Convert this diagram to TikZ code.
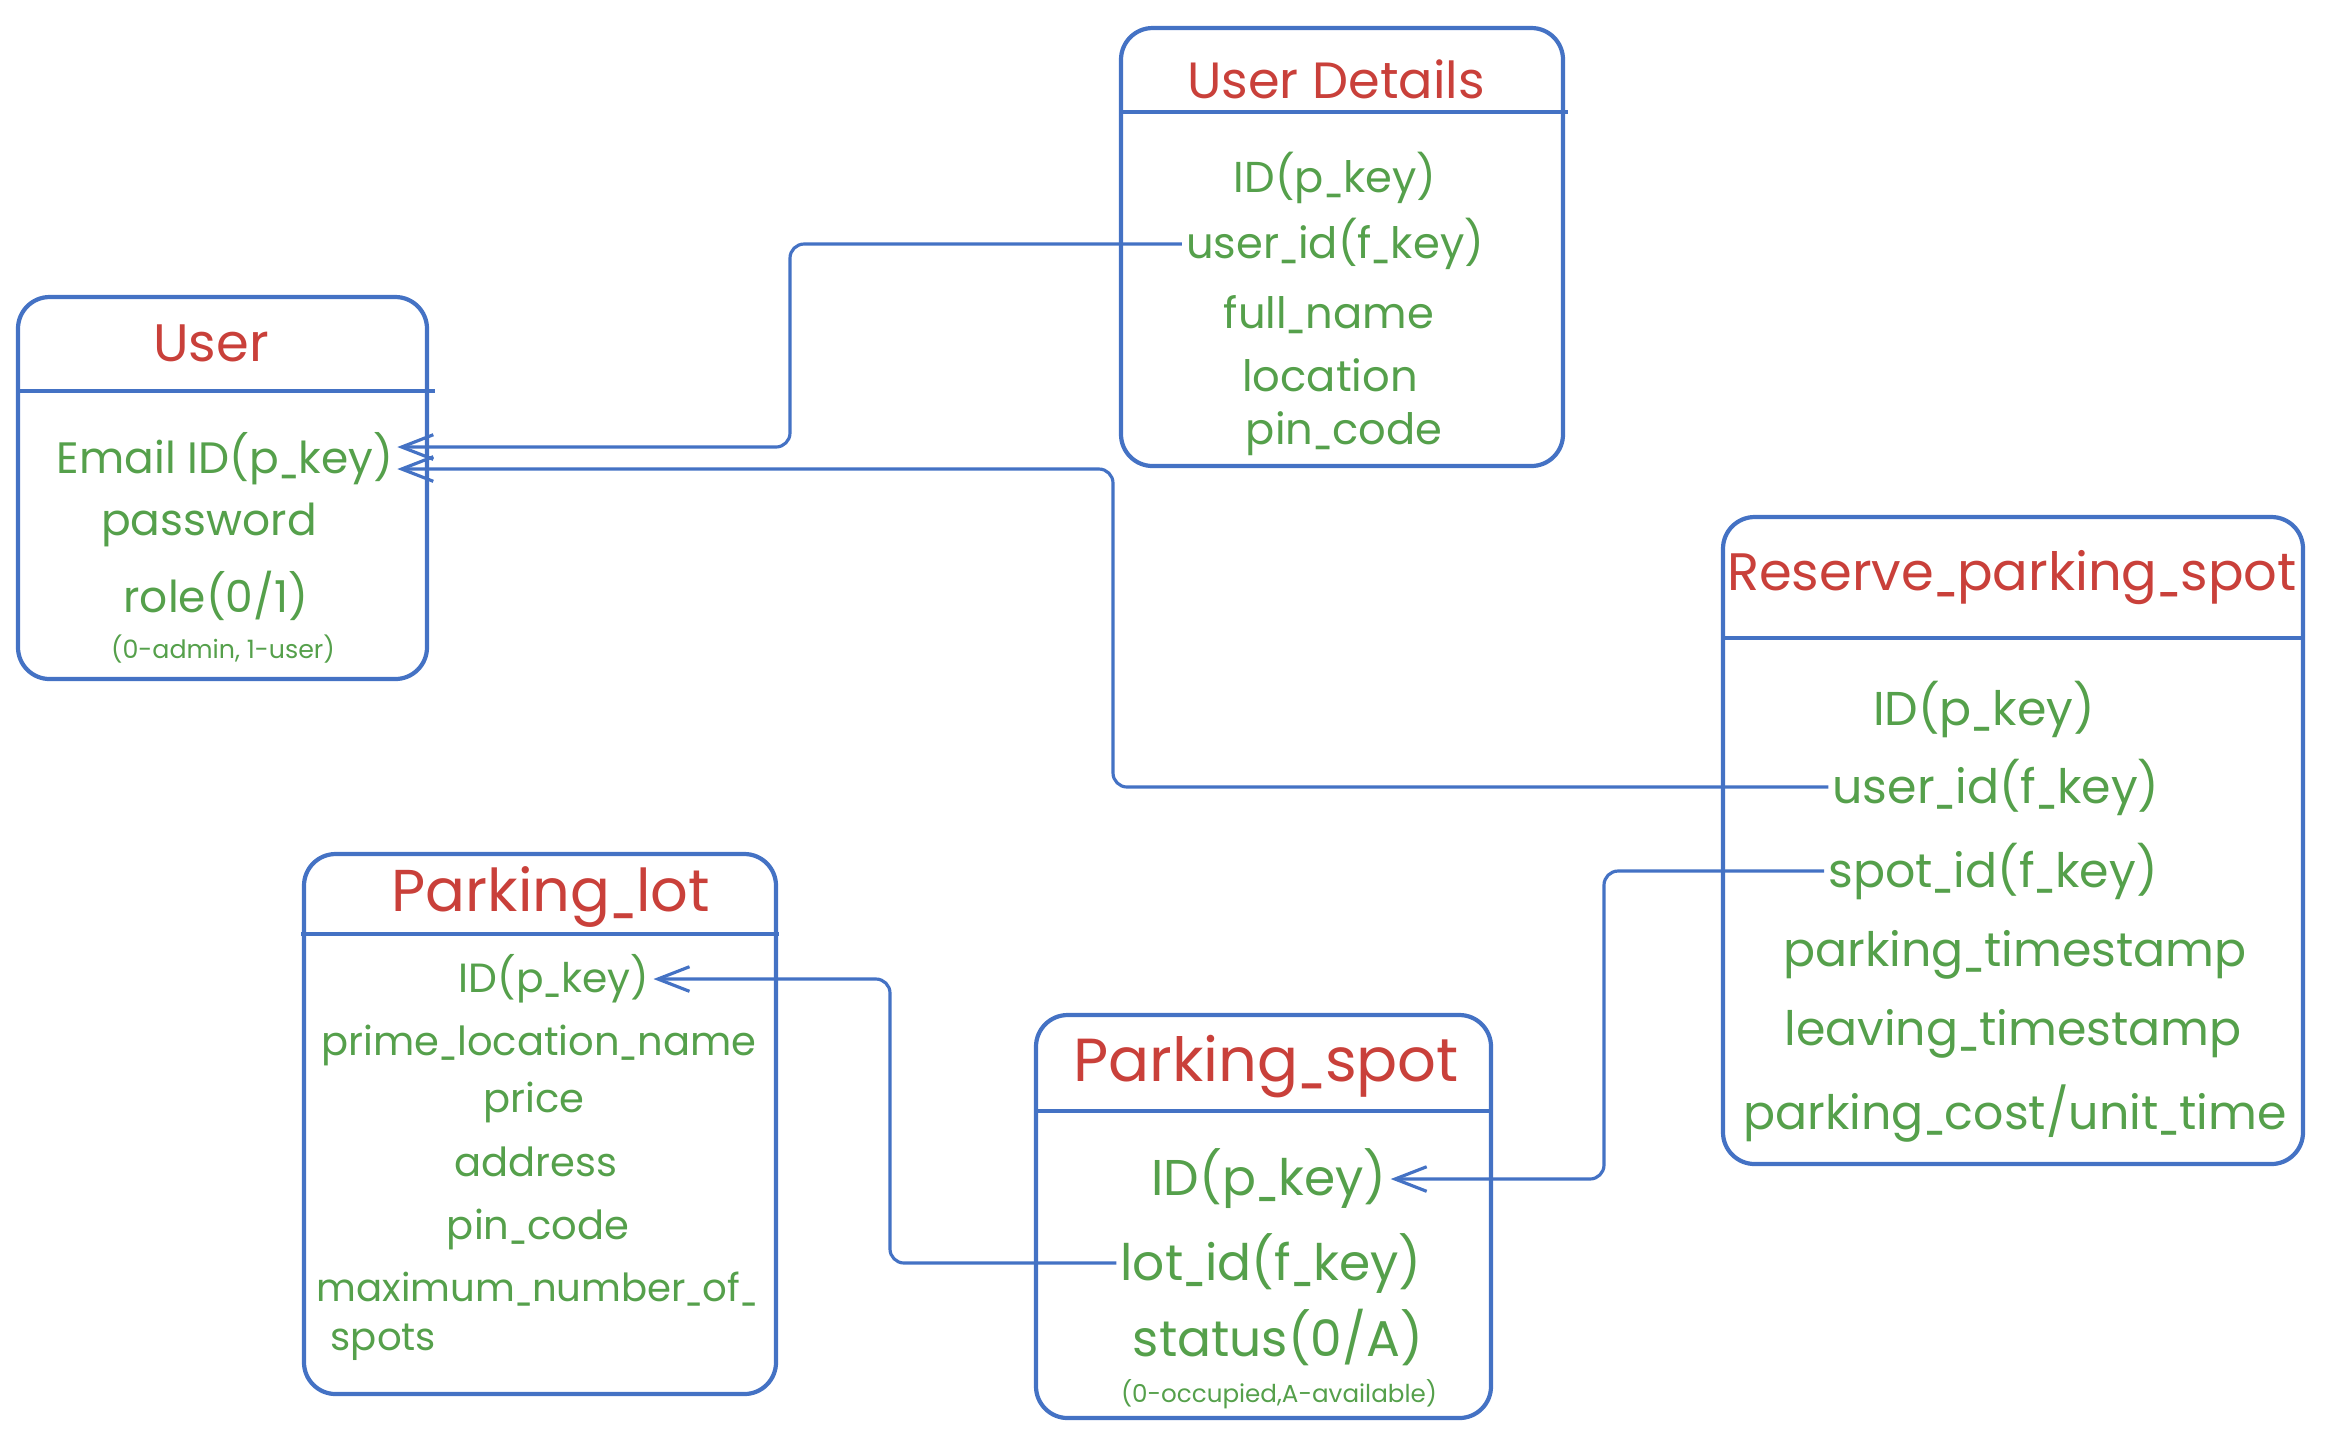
\documentclass[tikz,border=0pt]{standalone}
\usepackage{fontspec}
\usepackage{graphicx}
\setmainfont{Poppins}
\usetikzlibrary{arrows.meta}
\definecolor{erblue}{RGB}{68,114,196}
\definecolor{erred}{RGB}{201,64,58}
\definecolor{ergreen}{RGB}{85,160,75}
% narrower underscore
\newcommand{\us}{\scalebox{0.6}[1]{\_}}
\tikzset{
  ent/.style={draw=erblue, line width=1.2pt, rounded corners=9pt},
  hdr/.style={draw=erblue, line width=1.2pt},
  ttl/.style={text=erred, inner sep=1pt, font=\fontsize{15}{18}\selectfont},
  fld/.style={text=ergreen, inner sep=1pt, font=\fontsize{#1}{15}\selectfont},
  fld/.default=12.3,
  note/.style={text=ergreen, inner sep=1pt, font=\fontsize{#1}{9}\selectfont},
  note/.default=7.2,
  fk/.style={draw=erblue, line width=0.9pt, rounded corners=4pt,
    -{Straight Barb[length=9pt,width=7pt]}},
}
\begin{document}
\begin{tikzpicture}[x=0.1mm, y=-0.1mm]
  \useasboundingbox (0,0) rectangle (2350,1452);
  % User
  \draw[ent] (18,297) rectangle (427,679);
  \draw[hdr] (18,391) -- (435,391);
  \node[ttl] (u_title) at (211,343) {User};
  \node[fld=12.5] (u_email) at (225,459) {Email ID(p\us key)};
  \node[fld=12.5] (u_pass) at (209,525) {password};
  \node[fld=12.5] (u_role) at (216,596) {role(0/1)};
  \node[note] (u_note) at (223,649) {(0-admin, 1-user)};
  % User Details
  \draw[ent] (1121,28) rectangle (1563,466);
  \draw[hdr] (1121,112) -- (1568,112);
  \node[ttl, font=\fontsize{14.5}{18}\selectfont] (ud_title) at (1336,79) {User Details};
  \node[fld] (ud_id) at (1335,178) {ID(p\us key)};
  \node[fld] (ud_uid) at (1335,244) {user\us id(f\us key)};
  \node[fld] (ud_name) at (1329,315) {full\us name};
  \node[fld] (ud_loc) at (1330,375) {location};
  \node[fld] (ud_pin) at (1344,434) {pin\us code};
  % Reserve_parking_spot
  \draw[ent] (1723,517) rectangle (2303,1164);
  \draw[hdr] (1723,638) -- (2303,638);
  \node[ttl] (rp_title) at (2012,578) {Reserve\us parking\us spot};
  \node[fld=13.5] (rp_id) at (1984,709) {ID(p\us key)};
  \node[fld=13.5] (rp_uid) at (1996,787) {user\us id(f\us key)};
  \node[fld=13.5] (rp_sid) at (1993,871) {spot\us id(f\us key)};
  \node[fld=13.5] (rp_park) at (2015,955) {parking\us timestamp};
  \node[fld=13.5] (rp_leave) at (2013,1034) {leaving\us timestamp};
  \node[fld=13.5] (rp_cost) at (2015,1114) {parking\us cost/unit\us time};
  % Parking_lot
  \draw[ent] (304,854) rectangle (776,1394);
  \draw[hdr] (301,934) -- (779,934);
  \node[ttl, font=\fontsize{16.8}{18}\selectfont] (pl_title) at (551,897) {Parking\us lot};
  \node[fld=11.6] (pl_id) at (554,979) {ID(p\us key)};
  \node[fld=11.4] (pl_name) at (539,1045) {prime\us location\us name};
  \node[fld=11.4] (pl_price) at (534,1102) {price};
  \node[fld=11.4] (pl_addr) at (536,1162) {address};
  \node[fld=11.4] (pl_pin) at (538,1229) {pin\us code};
  \node[fld=11, align=left] (pl_max) at (537,1316)
    {maximum\us number\us of\us\\[-1pt]\hspace{4pt}spots};
  % Parking_spot
  \draw[ent] (1036,1015) rectangle (1491,1418);
  \draw[hdr] (1036,1111) -- (1491,1111);
  \node[ttl, font=\fontsize{17.3}{20}\selectfont] (ps_title) at (1266,1067) {Parking\us spot};
  \node[fld=14.3] (ps_id) at (1269,1179) {ID(p\us key)};
  \node[fld=14.3] (ps_lot) at (1271,1263) {lot\us id(f\us key)};
  \node[fld=14.3] (ps_stat) at (1278,1337) {status(0/A)};
  \node[note=7] (ps_note) at (1279,1394) {(0-occupied,A-available)};
  % foreign keys
  \coordinate (k1) at (790,447);
  \coordinate (k2) at (1113,469);
  \coordinate (k3) at (1604,1179);
  \coordinate (k4) at (890,979);
  \draw[fk] (ud_uid.west) -| (k1) -- (k1 -| u_email.east);
  \draw[fk] (rp_uid.west) -| (k2) -- (k2 -| u_email.east);
  \draw[fk] (rp_sid.west) -| (k3) -- (k3 -| ps_id.east);
  \draw[fk] (ps_lot.west) -| (k4) -- (k4 -| pl_id.east);
\end{tikzpicture}
\end{document}
